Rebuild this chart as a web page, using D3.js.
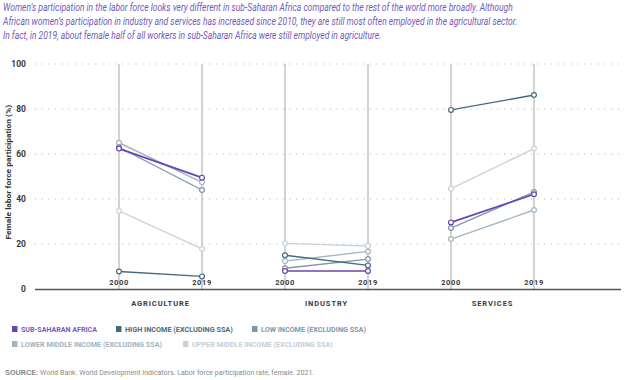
<!DOCTYPE html>
<html><head><meta charset="utf-8">
<script src="https://cdn.jsdelivr.net/npm/d3@7"></script>
<style>body{margin:0;background:#fff;}svg{display:block;}</style>
</head><body><div id="chart"></div>
<script>
const categories = ["AGRICULTURE", "INDUSTRY", "SERVICES"];
const years = ["2000", "2019"];
const yTicks = [0, 20, 40, 60, 80, 100];
const seriesNames = ["SUB-SAHARAN AFRICA", "HIGH INCOME (EXCLUDING SSA)", "LOW INCOME (EXCLUDING SSA)",
  "LOWER MIDDLE INCOME (EXCLUDING SSA)", "UPPER MIDDLE INCOME (EXCLUDING SSA)"];
// values in order: Agri 2000, Agri 2019, Industry 2000, Industry 2019, Services 2000, Services 2019
const ssa      = [62.4, 49.5, 8.0, 8.0, 29.6, 42.1];
const high     = [7.8, 5.6, 15.0, 10.5, 79.6, 86.2];
const low      = [63.0, 44.0, 9.2, 13.3, 27.1, 43.1];
const lowerMid = [65.0, 47.4, 12.4, 16.7, 22.2, 35.1];
const upperMid = [34.7, 17.8, 20.3, 19.1, 44.6, 62.4];
const titleLines = [
  "Women’s participation in the labor force looks very different in sub-Saharan Africa compared to the rest of the world more broadly. Although",
  "African women’s participation in industry and services has increased since 2010, they are still most often employed in the agricultural sector.",
  "In fact, in 2019, about female half of all workers in sub-Saharan Africa were still employed in agriculture."
];
const sourceLabel = "SOURCE:";
const sourceText = "World Bank. World Development Indicators. Labor force participation rate, female. 2021.";

const colors = ["#6a44b4", "#46697f", "#7f97a8", "#a5b5c1", "#c9d4db"];
const textColors = ["#7a58c0", "#4a6a80", "#8098a9", "#a3b2bd", "#c3ced6"];
const allSeries = [ssa, high, low, lowerMid, upperMid];

const W = 624, H = 380;
const svg = d3.select("#chart").append("svg").attr("width", W).attr("height", H);

// helper: draw text squeezed horizontally to a target width
function fitText(parent, x, yy, str, width, attrs) {
  const g = parent.append("g");
  const t = g.append("text").attr("x", 0).attr("y", 0).text(str);
  Object.entries(attrs).forEach(([k, v]) => t.attr(k, v));
  const natural = t.node().getComputedTextLength();
  const s = width / natural;
  g.attr("transform", `translate(${x},${yy}) scale(${s},1)`);
  return g;
}

// title
const titleW = [510, 515, 378];
titleLines.forEach((t, i) => {
  fitText(svg, 3, 11 + i * 14.2, t, titleW[i], {
    "font-family": "Roboto", "font-style": "italic", "font-size": 11.5, "fill": "#7259bb"
  });
});

const y = d3.scaleLinear().domain([0, 100]).range([289, 64]);
const xCat = d3.scaleBand().domain(categories).range([77.5, 575.5]);
const xYear = d3.scalePoint().domain(years).range([-41.5, 41.5]);
const xPos = (c, yr) => xCat(c) + xCat.bandwidth() / 2 + xYear(yr);

// grid
const grid = svg.append("g");
yTicks.filter(d => d > 0).forEach(t => {
  grid.append("line").attr("x1", 35).attr("x2", 621).attr("y1", y(t)).attr("y2", y(t))
    .attr("stroke", "#b0b0b0").attr("stroke-width", 1).attr("stroke-dasharray", "1,5.7");
});
// y axis labels
const yAxis = d3.axisLeft(y).tickValues(yTicks).tickSize(0).tickPadding(0);
const ga = svg.append("g").attr("transform", "translate(26,0)").call(yAxis);
ga.select(".domain").remove();
ga.selectAll("text").attr("font-family", "Roboto").attr("font-weight", "bold").attr("font-size", 8.5).attr("fill", "#3a3a3a");

// y title
const yt = svg.append("g").attr("transform", "translate(11,172) rotate(-90)");
fitText(yt, -67.5, 0, "Female labor force participation (%)", 135, {
  "font-family": "Roboto", "font-weight": "bold", "font-size": 8, "fill": "#333"
});

// vertical lines
categories.forEach(c => years.forEach(yr => {
  svg.append("line").attr("x1", xPos(c, yr)).attr("x2", xPos(c, yr)).attr("y1", y(100)).attr("y2", y(0))
    .attr("stroke", "#cfcfcf").attr("stroke-width", 1.8);
  svg.append("text").attr("x", xPos(c, yr)).attr("y", 285).attr("text-anchor", "middle")
    .attr("font-family", "Roboto").attr("font-weight", "bold").attr("font-size", 7.5)
    .attr("letter-spacing", 0.6).attr("fill", "#3a3a3a").text(yr);
}));
categories.forEach(c => {
  svg.append("text").attr("x", xCat(c) + xCat.bandwidth() / 2).attr("y", 306).attr("text-anchor", "middle")
    .attr("font-family", "Roboto").attr("font-weight", "bold").attr("font-size", 7.5)
    .attr("letter-spacing", 0.9).attr("fill", "#3a3a3a").text(c);
});

// baseline
svg.append("line").attr("x1", 35).attr("x2", 621).attr("y1", 289.5).attr("y2", 289.5)
  .attr("stroke", "#555").attr("stroke-width", 1.4);

// series lines
const order = [4, 3, 2, 1, 0];
order.forEach(si => {
  const vals = allSeries[si];
  const g = svg.append("g");
  categories.forEach((c, ci) => {
    const pts = years.map((yr, yi) => [xPos(c, yr), y(vals[ci * 2 + yi])]);
    g.append("path").attr("d", d3.line()(pts)).attr("fill", "none")
      .attr("stroke", colors[si]).attr("stroke-width", si === 0 ? 1.7 : 1.4);
    pts.forEach(p => g.append("circle").attr("cx", p[0]).attr("cy", p[1]).attr("r", 2.4)
      .attr("fill", "#fff").attr("stroke", colors[si]).attr("stroke-width", 1.2));
  });
});

// legend
const legendPos = [[12, 329, 76], [116, 329, 108], [252, 329, 105], [12, 344, 141], [183, 344, 141]];
seriesNames.forEach((n, i) => {
  const [lx, ly, tw] = legendPos[i];
  svg.append("rect").attr("x", lx).attr("y", ly - 3).attr("width", 5.5).attr("height", 6).attr("fill", colors[i]);
  fitText(svg, lx + 9, ly + 3, n, tw, {
    "font-family": "Roboto", "font-weight": "bold", "font-size": 7.3, "fill": textColors[i]
  });
});

// source
fitText(svg, 5, 375, sourceLabel, 33, {
  "font-family": "Roboto", "font-weight": "bold", "font-size": 7.5, "fill": "#8a8a8a"
});
fitText(svg, 40, 375, sourceText, 275, {
  "font-family": "Roboto", "font-size": 7.5, "fill": "#8a8a8a"
});
</script></body></html>
